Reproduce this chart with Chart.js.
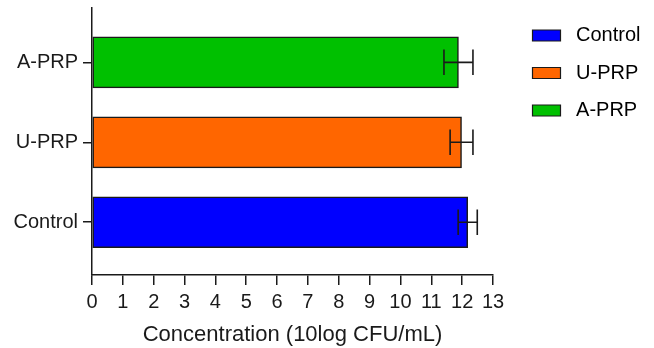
<!DOCTYPE html>
<html>
<head>
<meta charset="utf-8">
<title>Concentration</title>
<script src="https://cdn.jsdelivr.net/npm/chart.js"></script>
<style>
  html, body { margin: 0; padding: 0; background: #fff; }
  #wrap { width: 654px; height: 348px; }
</style>
</head>
<body>
<div id="wrap"><canvas id="chart" width="654" height="348"></canvas></div>
<script>
// data
const categories = ['Control', 'U-PRP', 'A-PRP'];
const means = [12.18, 11.98, 11.88];
const errors = [0.31, 0.37, 0.47];
const barColors = ['#0000FF', '#FF6600', '#00C000'];
const xTicks = [0, 1, 2, 3, 4, 5, 6, 7, 8, 9, 10, 11, 12, 13];

const FONT = "'Liberation Sans', Arial, sans-serif";
const INK = '#1a1a1a';

// error bars drawn on top of the bars
const errorBars = {
  id: 'errorBars',
  afterDatasetsDraw(chart) {
    const ctx = chart.ctx;
    const xs = chart.scales.x;
    const meta = chart.getDatasetMeta(0);
    ctx.save();
    ctx.strokeStyle = INK;
    ctx.lineWidth = 1.6;
    meta.data.forEach((bar, i) => {
      const lo = xs.getPixelForValue(means[i] - errors[i]);
      const hi = xs.getPixelForValue(means[i] + errors[i]);
      const cap = bar.height / 4;
      ctx.beginPath();
      ctx.moveTo(lo, bar.y); ctx.lineTo(hi, bar.y);
      ctx.moveTo(lo, bar.y - cap); ctx.lineTo(lo, bar.y + cap);
      ctx.moveTo(hi, bar.y - cap); ctx.lineTo(hi, bar.y + cap);
      ctx.stroke();
    });
    ctx.restore();
  }
};

// push the legend a bit away from the plot
const legendGap = {
  id: 'legendGap',
  afterLayout(chart) {
    const lg = chart.legend;
    if (lg) { lg.left += 22; lg.right += 22; }
  }
};

window.addEventListener('DOMContentLoaded', function () {
  const ctx = document.getElementById('chart').getContext('2d');
  new Chart(ctx, {
    type: 'bar',
    data: {
      datasets: [{
        label: 'Concentration',
        data: means.map((v, i) => ({ x: v, y: i })),
        backgroundColor: barColors,
        borderColor: INK,
        borderWidth: 1.5,
        borderSkipped: false,
        barThickness: 51
      }]
    },
    options: {
      indexAxis: 'y',
      responsive: false,
      animation: false,
      layout: { padding: { top: 8, right: 6, bottom: 0, left: 0 } },
      plugins: {
        tooltip: { enabled: false },
        legend: {
          position: 'right',
          align: 'start',
          labels: {
            boxWidth: 28,
            boxHeight: 11,
            padding: 17.5,
            color: INK,
            font: { family: FONT, size: 20 },
            generateLabels: () => categories.map((c, i) => ({
              text: ' ' + c,
              fillStyle: barColors[i],
              strokeStyle: INK,
              lineWidth: 1.2,
              datasetIndex: 0,
              index: i
            }))
          }
        }
      },
      scales: {
        x: {
          type: 'linear',
          min: 0,
          max: 13,
          afterBuildTicks: (s) => { s.ticks = xTicks.map(v => ({ value: v })); },
          afterFit: (s) => { s.height = 73; s.paddingRight = 654 - 493; },
          grid: { drawOnChartArea: false, drawTicks: true, tickLength: 10, color: INK, lineWidth: 1.5 },
          border: { color: INK, width: 1.5 },
          ticks: { color: INK, font: { family: FONT, size: 20 }, padding: 5, maxRotation: 0, autoSkip: false },
          title: {
            display: true,
            text: 'Concentration (10log CFU/mL)',
            color: INK,
            font: { family: FONT, size: 22 },
            padding: { top: 0, bottom: 0 }
          }
        },
        y: {
          type: 'linear',
          min: -0.66,
          max: 2.68,
          offset: false,
          afterBuildTicks: (s) => { s.ticks = categories.map((c, i) => ({ value: i })); },
          afterFit: (s) => { s.width = 92; s.paddingTop = 0; s.paddingBottom = 0; },
          grid: { offset: false, drawOnChartArea: false, drawTicks: true, tickLength: 9, color: INK, lineWidth: 1.5 },
          border: { color: INK, width: 1.5 },
          ticks: {
            color: INK,
            font: { family: FONT, size: 20 },
            padding: 5,
            autoSkip: false,
            callback: (v) => categories[v]
          }
        }
      }
    },
    plugins: [errorBars, legendGap]
  });
});
</script>
</body>
</html>
